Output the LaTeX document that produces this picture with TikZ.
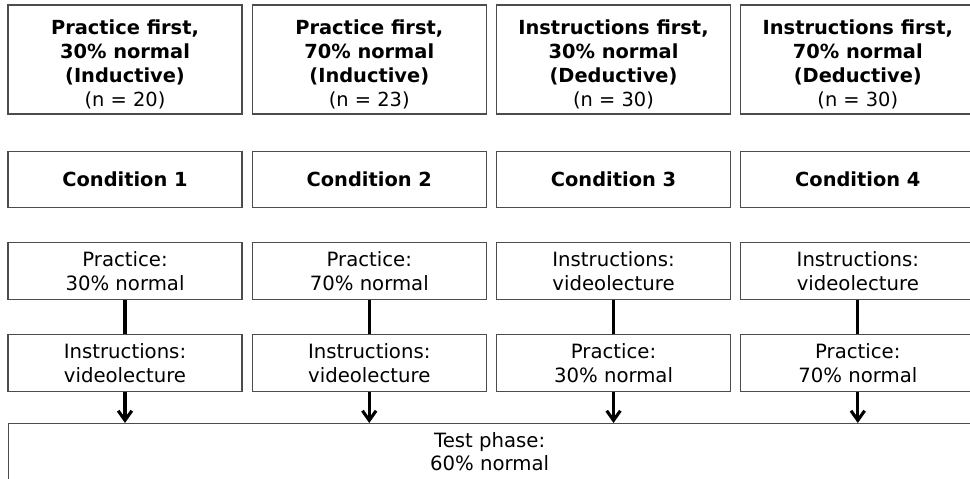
\documentclass[tikz,border=0pt]{standalone}
\usepackage{fontspec}
\setmainfont{DejaVu Sans}
\usetikzlibrary{positioning, arrows.meta}

\newcommand{\headgap}{\rule{0pt}{0.6cm}}

\begin{document}
\begin{tikzpicture}[
    node distance=0.85cm and 0.225cm,
    box/.style={draw=black!70, line width=0.9pt, minimum width=5.85cm, align=center, inner sep=0pt, font=\fontsize{14}{16.8}\selectfont},
    headbox/.style={box, minimum height=2.725cm, font=\fontsize{13.8}{17}\selectfont\bfseries},
    condbox/.style={box, minimum height=1.4cm, font=\fontsize{13.8}{16.5}\selectfont\bfseries},
    stepbox/.style={box, minimum height=1.425cm},
    link/.style={line width=2.2pt},
    arrow/.style={link, -{Straight Barb[length=2.4mm, width=3.4mm]}},
]
\clip (0,0) rectangle (24.25,-11.95);

% Group headers
\node[headbox] (h1) at (3.125,-1.4875) {\headgap Practice first,\\30\% normal\\(Inductive)\\{\mdseries (n = 20)}};
\node[headbox, right=of h1] (h2) {\headgap Practice first,\\70\% normal\\(Inductive)\\{\mdseries (n = 23)}};
\node[headbox, right=of h2] (h3) {\headgap Instructions first,\\30\% normal\\(Deductive)\\{\mdseries (n = 30)}};
\node[headbox, right=of h3] (h4) {\headgap Instructions first,\\70\% normal\\(Deductive)\\{\mdseries (n = 30)}};

% Conditions
\node[condbox, below=0.9cm of h1] (c1) {Condition 1};
\node[condbox, below=0.9cm of h2] (c2) {Condition 2};
\node[condbox, below=0.9cm of h3] (c3) {Condition 3};
\node[condbox, below=0.9cm of h4] (c4) {Condition 4};

% First phase
\node[stepbox, below=of c1] (p1) {Practice:\\30\% normal};
\node[stepbox, below=of c2] (p2) {Practice:\\70\% normal};
\node[stepbox, below=of c3] (p3) {Instructions:\\videolecture};
\node[stepbox, below=of c4] (p4) {Instructions:\\videolecture};

% Second phase
\node[stepbox, below=of p1] (q1) {Instructions:\\videolecture};
\node[stepbox, below=of p2] (q2) {Instructions:\\videolecture};
\node[stepbox, below=of p3] (q3) {Practice:\\30\% normal};
\node[stepbox, below=of p4] (q4) {Practice:\\70\% normal};

% Test phase
\node[box, minimum width=24.05cm, minimum height=1.4cm, anchor=north west] (test) at (0.2,-10.575) {Test phase:\\60\% normal};

% Connections
\foreach \i in {1,...,4} {
    \draw[link] (p\i) -- (q\i);
    \draw[arrow] (q\i) -- (q\i |- test.north);
}

\end{tikzpicture}
\end{document}
